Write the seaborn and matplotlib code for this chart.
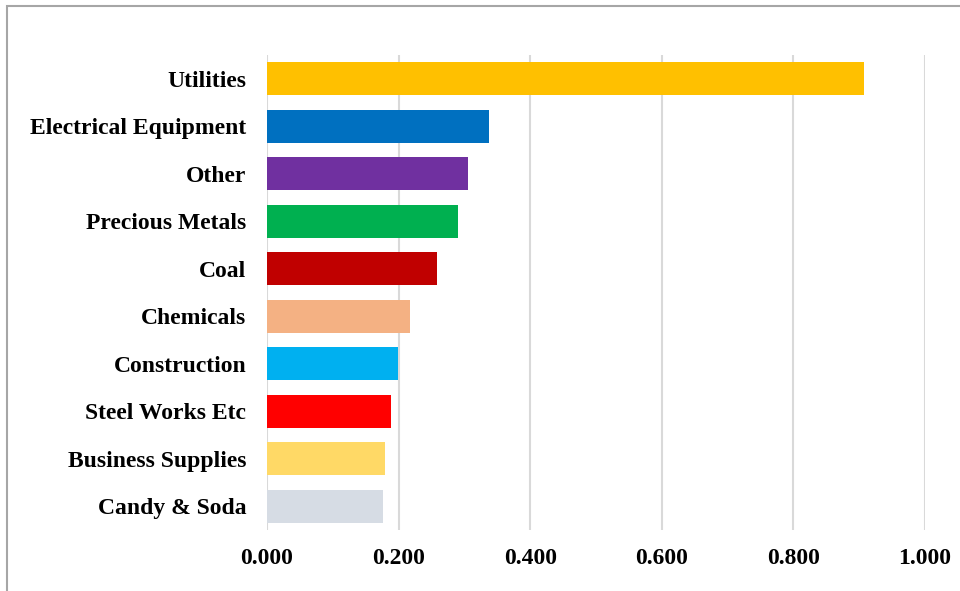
import matplotlib
matplotlib.use("Agg")
import matplotlib.pyplot as plt
import seaborn as sns
import pandas as pd
from matplotlib.patches import Rectangle

categories = ["Utilities", "Electrical Equipment", "Other", "Precious Metals", "Coal",
              "Chemicals", "Construction", "Steel Works Etc", "Business Supplies", "Candy & Soda"]
values = [0.907, 0.338, 0.305, 0.290, 0.259, 0.217, 0.199, 0.188, 0.179, 0.177]
colors = ["#FFC000", "#0070C0", "#7030A0", "#00B050", "#C00000",
          "#F4B183", "#00B0F0", "#FF0000", "#FFD966", "#D6DCE4"]
xticks = [0.0, 0.2, 0.4, 0.6, 0.8, 1.0]

df = pd.DataFrame({"category": categories, "value": values})

sns.set_theme(style="white")
plt.rcParams['font.family'] = ['Liberation Serif', 'DejaVu Serif']

fig = plt.figure(figsize=(9.6, 5.91), dpi=100)
ax = fig.add_axes([267/960, (591-530)/591, 658/960, 475/591])

sns.barplot(data=df, x="value", y="category", hue="category", palette=colors,
            order=categories, hue_order=categories, legend=False, width=0.7,
            saturation=1, orient="h", linewidth=0, ax=ax)

ax.set_xlim(0, 1.0)
ax.set_ylim(9.5, -0.5)
ax.set_xticks(xticks)
ax.set_xticklabels([f"{t:.3f}" for t in xticks])
ax.xaxis.grid(True, color="#d9d9d9", linewidth=1.5)
ax.set_axisbelow(True)
for s in ax.spines.values():
    s.set_visible(False)
ax.tick_params(axis="both", length=0)
ax.tick_params(axis="y", pad=15)
ax.tick_params(axis="x", pad=13)
for lab in ax.get_yticklabels() + ax.get_xticklabels():
    lab.set_fontweight("bold")
    lab.set_fontsize(17)
    lab.set_color("black")
ax.set_xlabel("")
ax.set_ylabel("")

fig.patches.append(Rectangle((6.5/960, -0.1), 1.2, 1 - 5.5/591 + 0.1, transform=fig.transFigure,
                             fill=False, edgecolor="#a6a6a6", linewidth=1.5))

fig.savefig("out.png", dpi=100)
